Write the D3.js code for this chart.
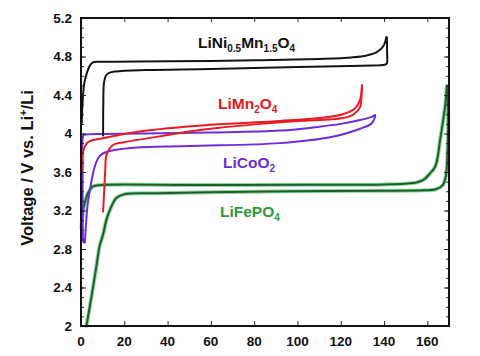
<!DOCTYPE html>
<html><head><meta charset="utf-8">
<script src="https://cdn.jsdelivr.net/npm/d3@7"></script>
<style>body{margin:0;background:#fff}svg{display:block}</style>
</head><body>
<svg id="c" width="480" height="356"></svg>
<script>
// ---- data (capacity mAh/g, voltage V) ----
const xTicks = [0,20,40,60,80,100,120,140,160];
const yTicks = [2,2.4,2.8,3.2,3.6,4,4.4,4.8,5.2];
const yTickLabels = ["2","2.4","2.8","3.2","3.6","4","4.4","4.8","5.2"];

const lnmoUpper = [[0.3,4.1],[0.8,4.35],[1.5,4.52],[2.6,4.62],[4,4.7],[5.5,4.74],[10,4.745],[40,4.75],[80,4.76],[110,4.775],[125,4.79],[132,4.81],[137,4.85],[140,4.92],[141,5.0]];
const lnmoLower = [[10.2,3.98],[10.3,4.3],[10.6,4.52],[11.5,4.6],[13,4.63],[16,4.645],[30,4.66],[60,4.67],[100,4.69],[130,4.705],[140.5,4.715],[141.3,4.73],[141.4,4.85],[141.3,5.0]];

const lmoUpper = [[0.3,3.6],[0.8,3.8],[3.2,3.91],[10,3.95],[27,4.02],[60,4.09],[92,4.13],[110,4.16],[121,4.2],[126.5,4.26],[128.6,4.33],[129.5,4.42],[129.8,4.5]];
const lmoLower = [[10.2,3.19],[10.7,3.4],[11.2,3.62],[11.8,3.78],[14.8,3.88],[20,3.91],[36.5,3.97],[50,4.02],[64,4.06],[83,4.1],[100,4.13],[121,4.16],[126,4.2],[129,4.28],[129.6,4.4],[129.8,4.5]];

const lcoCharge = [[1.8,2.87],[2.3,3.05],[3,3.25],[4,3.4],[5.5,3.58],[7,3.7],[8.8,3.77],[12,3.81],[23,3.85],[50,3.87],[92,3.9],[115,3.96],[129,4.05],[134,4.1],[135.5,4.15],[135.9,4.19]];
const lcoDischarge = [[135.9,4.19],[134,4.17],[129,4.14],[120,4.1],[110,4.07],[92,4.03],[60,4.01],[30,4.0],[10,3.995],[2.5,3.99],[1.1,3.98],[0.8,3.7],[0.75,3.3],[0.85,3.0],[1.2,2.87],[1.8,2.87]];

const lfpUpper = [[0.2,3.02],[0.9,3.19],[2,3.3],[3.2,3.38],[5.5,3.45],[9.4,3.465],[50,3.465],[100,3.467],[140,3.47],[155,3.49],[158.3,3.52],[161,3.58],[163.7,3.66],[166,3.95],[168.3,4.3],[169,4.49]];
const lfpLower = [[2.5,2.0],[4.8,2.3],[7.1,2.62],[8.6,2.83],[10.2,2.95],[11.7,3.1],[14,3.24],[16.3,3.33],[20.2,3.37],[35,3.38],[60,3.39],[100,3.4],[140,3.405],[158,3.41],[164,3.42],[167,3.46],[168.5,3.55],[169.3,3.8],[169.6,4.2],[169,4.49]];

// ---- chart ----
const svg = d3.select("#c");
const x = d3.scaleLinear().domain([0,170]).range([81,449]);
const y = d3.scaleLinear().domain([2,5.2]).range([326,18]);
const F = "'Liberation Sans', Arial, sans-serif";

const line = d3.line().x(d=>x(d[0])).y(d=>y(d[1])).curve(d3.curveCatmullRom.alpha(0.5));

function draw(data, color, w){
  svg.append("path").datum(data).attr("d", line)
    .attr("fill","none").attr("stroke",color).attr("stroke-width",w)
    .attr("stroke-linejoin","round").attr("stroke-linecap","round");
}
// green with light halo
[lfpUpper, lfpLower].forEach(d=>draw(d,"#8fd89a",4));
[lfpUpper, lfpLower].forEach(d=>draw(d,"#1d5e2c",2));
draw(lcoCharge,"#6a2ee0",2);
draw(lcoDischarge,"#6a2ee0",2);
draw(lmoUpper,"#ea1a22",2);
draw(lmoLower,"#ea1a22",2);
draw(lnmoUpper,"#141414",2);
draw(lnmoLower,"#141414",2);

// axes (ticks inward)
const gB = svg.append("g").attr("transform","translate(0,326)")
  .call(d3.axisBottom(x).tickValues(xTicks).tickSize(-5).tickFormat(""));
const gT = svg.append("g").attr("transform","translate(0,18)")
  .call(d3.axisTop(x).tickValues(xTicks).tickSize(-4).tickFormat(""));
const minorY = d3.range(2,5.21,0.1).map(v=>+v.toFixed(1));
const gL = svg.append("g").attr("transform","translate(81,0)")
  .call(d3.axisLeft(y).tickValues(minorY).tickSize(-3).tickFormat(""));
const gLM = svg.append("g").attr("transform","translate(81,0)")
  .call(d3.axisLeft(y).tickValues(yTicks).tickSize(-5).tickFormat(""));
const gR = svg.append("g").attr("transform","translate(449,0)")
  .call(d3.axisRight(y).tickValues(minorY).tickSize(-3).tickFormat(""));
const gRM = svg.append("g").attr("transform","translate(449,0)")
  .call(d3.axisRight(y).tickValues(yTicks).tickSize(-5).tickFormat(""));
[gB,gT,gL,gLM,gR,gRM].forEach(g=>{
  g.select(".domain").remove();
  g.selectAll(".tick line").attr("stroke","#222").attr("stroke-width",1);
});
// frame
svg.append("rect").attr("x",81).attr("y",18).attr("width",368).attr("height",308)
  .attr("fill","none").attr("stroke","#111").attr("stroke-width",2);

// tick labels
svg.append("g").selectAll("text").data(xTicks).join("text")
  .attr("x",d=>x(d)).attr("y",345.5).attr("text-anchor","middle")
  .attr("font-family",F).attr("font-weight","bold").attr("font-size",13.5).attr("fill","#111")
  .text(d=>d);
svg.append("g").selectAll("text").data(yTicks).join("text")
  .attr("x",72).attr("y",d=>y(d)).attr("dy","0.36em").attr("text-anchor","end")
  .attr("font-family",F).attr("font-weight","bold").attr("font-size",13.5).attr("fill","#111")
  .text((d,i)=>yTickLabels[i]);

// y title
const yt = svg.append("text").attr("transform","translate(33,168) rotate(-90)")
  .attr("text-anchor","middle").attr("font-family",F).attr("font-weight","bold")
  .attr("font-size",16.5).attr("fill","#111");
yt.append("tspan").text("Voltage / V vs. Li");
yt.append("tspan").attr("dy",-6).attr("font-size",11).text("+");
yt.append("tspan").attr("dy",6).text("/Li");

// series labels
function label(xp, yp, color, parts){
  const t = svg.append("text").attr("x",xp).attr("y",yp).attr("font-family",F)
    .attr("font-weight","bold").attr("font-size",15.5).attr("fill",color);
  let shift = 0;
  parts.forEach(p=>{
    const s = t.append("tspan").text(p[0]);
    const target = p[1] ? 4 : 0;
    s.attr("dy", target - shift); shift = target;
    if (p[1]) s.attr("font-size",10);
  });
}
label(198,48,"#111",[["LiNi",0],["0.5",1],["Mn",0],["1.5",1],["O",0],["4",1]]);
label(218,109,"#e8161e",[["LiMn",0],["2",1],["O",0],["4",1]]);
label(223,168,"#6a2ed0",[["LiCoO",0],["2",1]]);
label(220,216.5,"#2c9a3c",[["LiFePO",0],["4",1]]);
</script>
</body></html>
